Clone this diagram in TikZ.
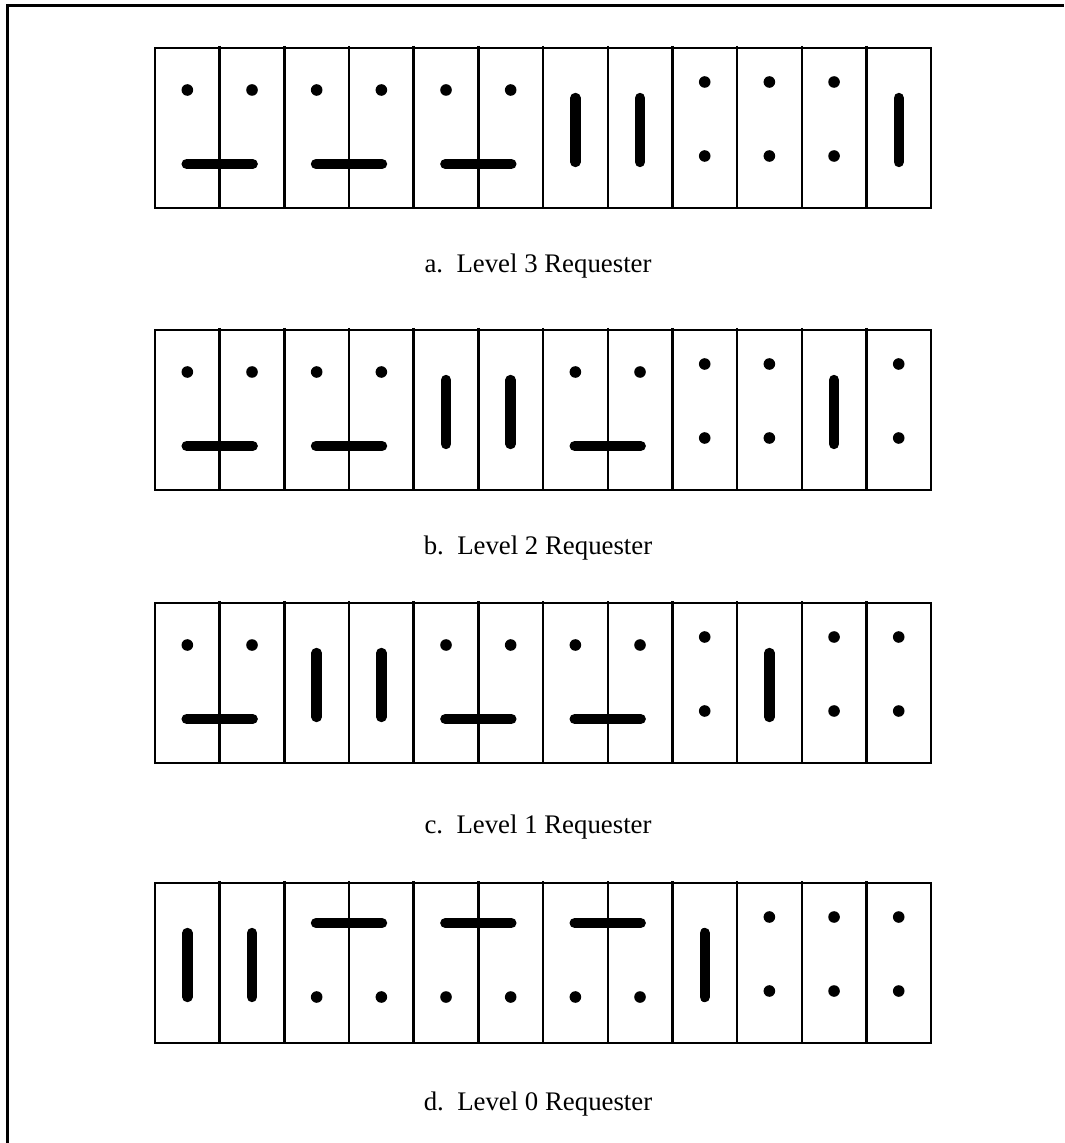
\documentclass[tikz,border=0pt]{standalone}
\usepackage{fontspec}
\setmainfont{Liberation Serif}
\usetikzlibrary{positioning}

\newcommand{\cellw}{64.67}
% one row of twelve cells, #1 = top edge
\newcommand{\cellrow}[1]{%
  \draw[cellline] (155,#1) rectangle (931,#1+160);
  \foreach \k in {1,...,11}
    \draw[cellline] ({155+\k*\cellw},#1-2) -- ({155+\k*\cellw},#1+160);
}
% two dots above a bar over cells #2 and #2+1
\newcommand{\pairlow}[2]{%
  \fill ({155+(#2-0.5)*\cellw},#1+42) circle (5.8);
  \fill ({155+(#2+0.5)*\cellw},#1+42) circle (5.8);
  \draw[thickbar] ({155+#2*\cellw-33},#1+116) -- ({155+#2*\cellw+33},#1+116);
}
% bar above two dots
\newcommand{\pairhigh}[2]{%
  \draw[thickbar] ({155+#2*\cellw-33},#1+40) -- ({155+#2*\cellw+33},#1+40);
  \fill ({155+(#2-0.5)*\cellw},#1+114) circle (5.8);
  \fill ({155+(#2+0.5)*\cellw},#1+114) circle (5.8);
}
\newcommand{\vbar}[2]{%
  \draw[thickbar] ({155+(#2-0.5)*\cellw},#1+50) -- ({155+(#2-0.5)*\cellw},#1+114);
}
\newcommand{\twodots}[2]{%
  \fill ({155+(#2-0.5)*\cellw},#1+34) circle (5.8);
  \fill ({155+(#2-0.5)*\cellw},#1+108) circle (5.8);
}

\begin{document}
\begin{tikzpicture}[x=0.5pt, y=-0.5pt,
    frameline/.style={line width=1.5pt},
    cellline/.style={line width=1.2pt},
    thickbar/.style={line width=5.2pt, line cap=round},
    caption/.style={font=\fontsize{13.4}{16}\selectfont}]
  \useasboundingbox (0,0) rectangle (1064,1143);
  \draw[frameline] (7,1143) -- (7,6) -- (1064,6);

  % a
  \cellrow{48}
  \pairlow{48}{1} \pairlow{48}{3} \pairlow{48}{5}
  \vbar{48}{7} \vbar{48}{8}
  \twodots{48}{9} \twodots{48}{10} \twodots{48}{11}
  \vbar{48}{12}
  \node[caption] (capa) at (538,266) {a.~~Level 3 Requester};

  % b
  \cellrow{330}
  \pairlow{330}{1} \pairlow{330}{3}
  \vbar{330}{5} \vbar{330}{6}
  \pairlow{330}{7}
  \twodots{330}{9} \twodots{330}{10}
  \vbar{330}{11}
  \twodots{330}{12}
  \node[caption] (capb) at (538,548) {b.~~Level 2 Requester};

  % c
  \cellrow{603}
  \pairlow{603}{1}
  \vbar{603}{3} \vbar{603}{4}
  \pairlow{603}{5} \pairlow{603}{7}
  \twodots{603}{9}
  \vbar{603}{10}
  \twodots{603}{11} \twodots{603}{12}
  \node[caption] (capc) at (538,827) {c.~~Level 1 Requester};

  % d
  \cellrow{883}
  \vbar{883}{1} \vbar{883}{2}
  \pairhigh{883}{3} \pairhigh{883}{5} \pairhigh{883}{7}
  \vbar{883}{9}
  \twodots{883}{10} \twodots{883}{11} \twodots{883}{12}
  \node[caption] (capd) at (538,1104) {d.~~Level 0 Requester};
\end{tikzpicture}
\end{document}
